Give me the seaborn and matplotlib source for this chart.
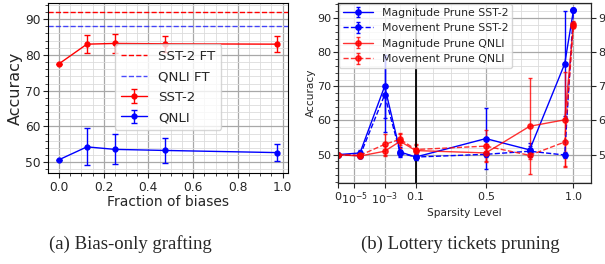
import numpy as np
import matplotlib
matplotlib.use("Agg")
import matplotlib.pyplot as plt
import seaborn as sns

# ---------------- data: left panel (bias-only grafting) ----------------
fractions = [0.0, 0.125, 0.25, 0.475, 0.975]
sst2_acc = [77.5, 83.0, 83.2, 83.1, 83.0]
sst2_err = [0.0, 2.6, 2.6, 2.3, 2.3]
qnli_acc = [50.7, 54.3, 53.6, 53.3, 52.7]
qnli_err = [0.0, 5.2, 4.2, 3.4, 2.3]
sst2_ft = 92.1
qnli_ft = 88.0

# ---------------- data: right panel (lottery tickets pruning) ----------------
sparsity = [0.0, 2.5e-5, 1e-3, 0.01, 0.1, 0.5, 0.75, 0.95, 1.0]
mag_sst2 = [50.0, 50.5, 70.0, 50.8, 49.3, 54.7, 51.4, 76.6, 92.3]
mag_sst2_err = [0.2, 0.8, 9.2, 1.5, 1.0, 8.9, 2.0, 15.4, 0.5]
mov_sst2 = [50.0, 49.7, 67.5, 50.5, 49.3, 50.1, 51.0, 49.9, 92.3]
mov_sst2_err = [0.2, 0.5, 11.0, 1.0, 0.8, 0.8, 1.5, 1.0, 0.5]
mag_qnli = [50.0, 49.6, 51.0, 53.9, 51.2, 50.5, 58.3, 60.2, 88.2]
mag_qnli_err = [0.2, 0.5, 1.5, 2.0, 1.8, 2.5, 14.1, 13.9, 0.8]
mov_qnli = [50.0, 49.8, 53.0, 54.5, 51.5, 52.5, 49.8, 53.7, 87.8]
mov_qnli_err = [0.2, 0.5, 3.0, 1.7, 1.2, 4.7, 1.0, 7.0, 0.8]

sparsity_ticks = [0.0, 1e-5, 1e-3, 0.1, 0.5, 1.0]
sparsity_ticklabels = ["$0$", "$10^{-5}$", "$10^{-3}$", "$0.1$", "$0.5$", "$1.0$"]
sparsity_minor = [1e-4, 1e-2, 0.2, 0.3, 0.4, 0.6, 0.7, 0.8, 0.9]

captions = ["(a) Bias-only grafting", "(b) Lottery tickets pruning"]

sns.set_style("ticks")
plt.rcParams["font.family"] = ["DejaVu Sans"]
plt.rcParams["mathtext.fontset"] = "dejavusans"
plt.rcParams["mathtext.default"] = "regular"

fig = plt.figure(figsize=(6.05, 2.64), dpi=100)
axL = fig.add_axes([48 / 605, 1 - 173 / 264, 240 / 605, 170 / 264])
axR = fig.add_axes([338 / 605, 1 - 183 / 264, 253 / 605, 180 / 264])

# ---------------- left panel ----------------
axL.axhline(sst2_ft, color="red", ls="--", lw=1.0, label="SST-2 FT")
axL.axhline(qnli_ft, color="blue", ls="--", lw=1.0, alpha=0.7, label="QNLI FT")
axL.errorbar(fractions, sst2_acc, yerr=sst2_err, color="red", marker="o",
             ms=3.5, lw=1.0, capsize=2, label="SST-2")
axL.errorbar(fractions, qnli_acc, yerr=qnli_err, color="blue", marker="o",
             ms=3.5, lw=1.0, capsize=2, label="QNLI")
axL.set_xlim(-0.049, 1.024)
axL.set_ylim(47.0, 94.5)
axL.set_yticks([50, 60, 70, 80, 90])
axL.set_xticks([0.0, 0.2, 0.4, 0.6, 0.8, 1.0])
axL.minorticks_on()
axL.grid(True, which="major", color="#a8a8a8", lw=0.9)
axL.grid(True, which="minor", color="#dcdcdc", lw=0.6)
axL.tick_params(labelsize=8.8, pad=2)
axL.set_xlabel("Fraction of biases", fontsize=10, labelpad=1)
axL.set_ylabel("Accuracy", fontsize=11.5, labelpad=1)
axL.legend(loc="center", bbox_to_anchor=(0.5, 0.505), fontsize=9.6,
           framealpha=0.8, handlelength=2.0, borderpad=0.45, labelspacing=0.55)
for s in axL.spines.values():
    s.set_color("black")

# ---------------- right panel ----------------
C = 1e-6
T = 0.1
K = 11.28
fT = np.log10(T + C)


def fwd(x):
    x = np.asarray(x, dtype=float)
    lo = np.log10(np.clip(x, 0, None) + C)
    hi = fT + (x - T) * K
    return np.where(x <= T, lo, hi)


def inv(y):
    y = np.asarray(y, dtype=float)
    lo = 10 ** np.minimum(y, fT) - C
    hi = T + (y - fT) / K
    return np.where(y <= fT, lo, hi)


axR.set_xscale("function", functions=(fwd, inv))
axR.errorbar(sparsity, mag_sst2, yerr=mag_sst2_err, color="blue", marker="o",
             ms=3.8, lw=1.0, capsize=1.5, label="Magnitude Prune SST-2")
axR.errorbar(sparsity, mov_sst2, yerr=mov_sst2_err, color="blue", marker="o",
             ms=3.8, lw=1.0, ls="--", capsize=1.5, label="Movement Prune SST-2")
axR.errorbar(sparsity, mag_qnli, yerr=mag_qnli_err, color="red", marker="o",
             ms=3.8, lw=1.0, capsize=1.5, alpha=0.8, label="Magnitude Prune QNLI")
axR.errorbar(sparsity, mov_qnli, yerr=mov_qnli_err, color="red", marker="o",
             ms=3.8, lw=1.0, ls="--", capsize=1.5, alpha=0.8, label="Movement Prune QNLI")
axR.axvline(0.1, color="black", lw=1.3)
axR.set_xlim(0.0, 1.1)
axR.set_ylim(41.7, 94.4)
axR.set_xticks(sparsity_ticks)
axR.set_xticklabels(sparsity_ticklabels)
axR.set_xticks(sparsity_minor, minor=True)
axR.set_yticks([50, 60, 70, 80, 90])
axR.yaxis.set_minor_locator(matplotlib.ticker.MultipleLocator(2))
axR.grid(True, which="major", color="#a8a8a8", lw=0.9)
axR.grid(True, which="minor", color="#dcdcdc", lw=0.6)
axR.tick_params(labelsize=8, pad=1.5)
axR.tick_params(axis="x", which="minor", length=0)
axR.set_xlabel("Sparsity Level", fontsize=7.6, labelpad=1)
axR.set_ylabel("Accuracy", fontsize=7.6, labelpad=1)
axR.legend(loc="upper left", fontsize=7.8, framealpha=0.8, borderaxespad=0.1,
           handlelength=2.8, borderpad=0.35, labelspacing=0.5)
for s in axR.spines.values():
    s.set_color("black")

axR2 = axR.twinx()
axR2.set_ylim(axR.get_ylim())
axR2.set_yticks([50, 60, 70, 80, 90])
axR2.tick_params(labelsize=8, pad=1.5)

# ---------------- captions ----------------
fig.text(130 / 605, 1 - 244 / 264, captions[0], ha="center", va="center",
         fontsize=13.5, family=["Liberation Serif", "DejaVu Serif"])
fig.text(460 / 605, 1 - 244 / 264, captions[1], ha="center", va="center",
         fontsize=13.5, family=["Liberation Serif", "DejaVu Serif"])

fig.savefig("out.png", dpi=100)
